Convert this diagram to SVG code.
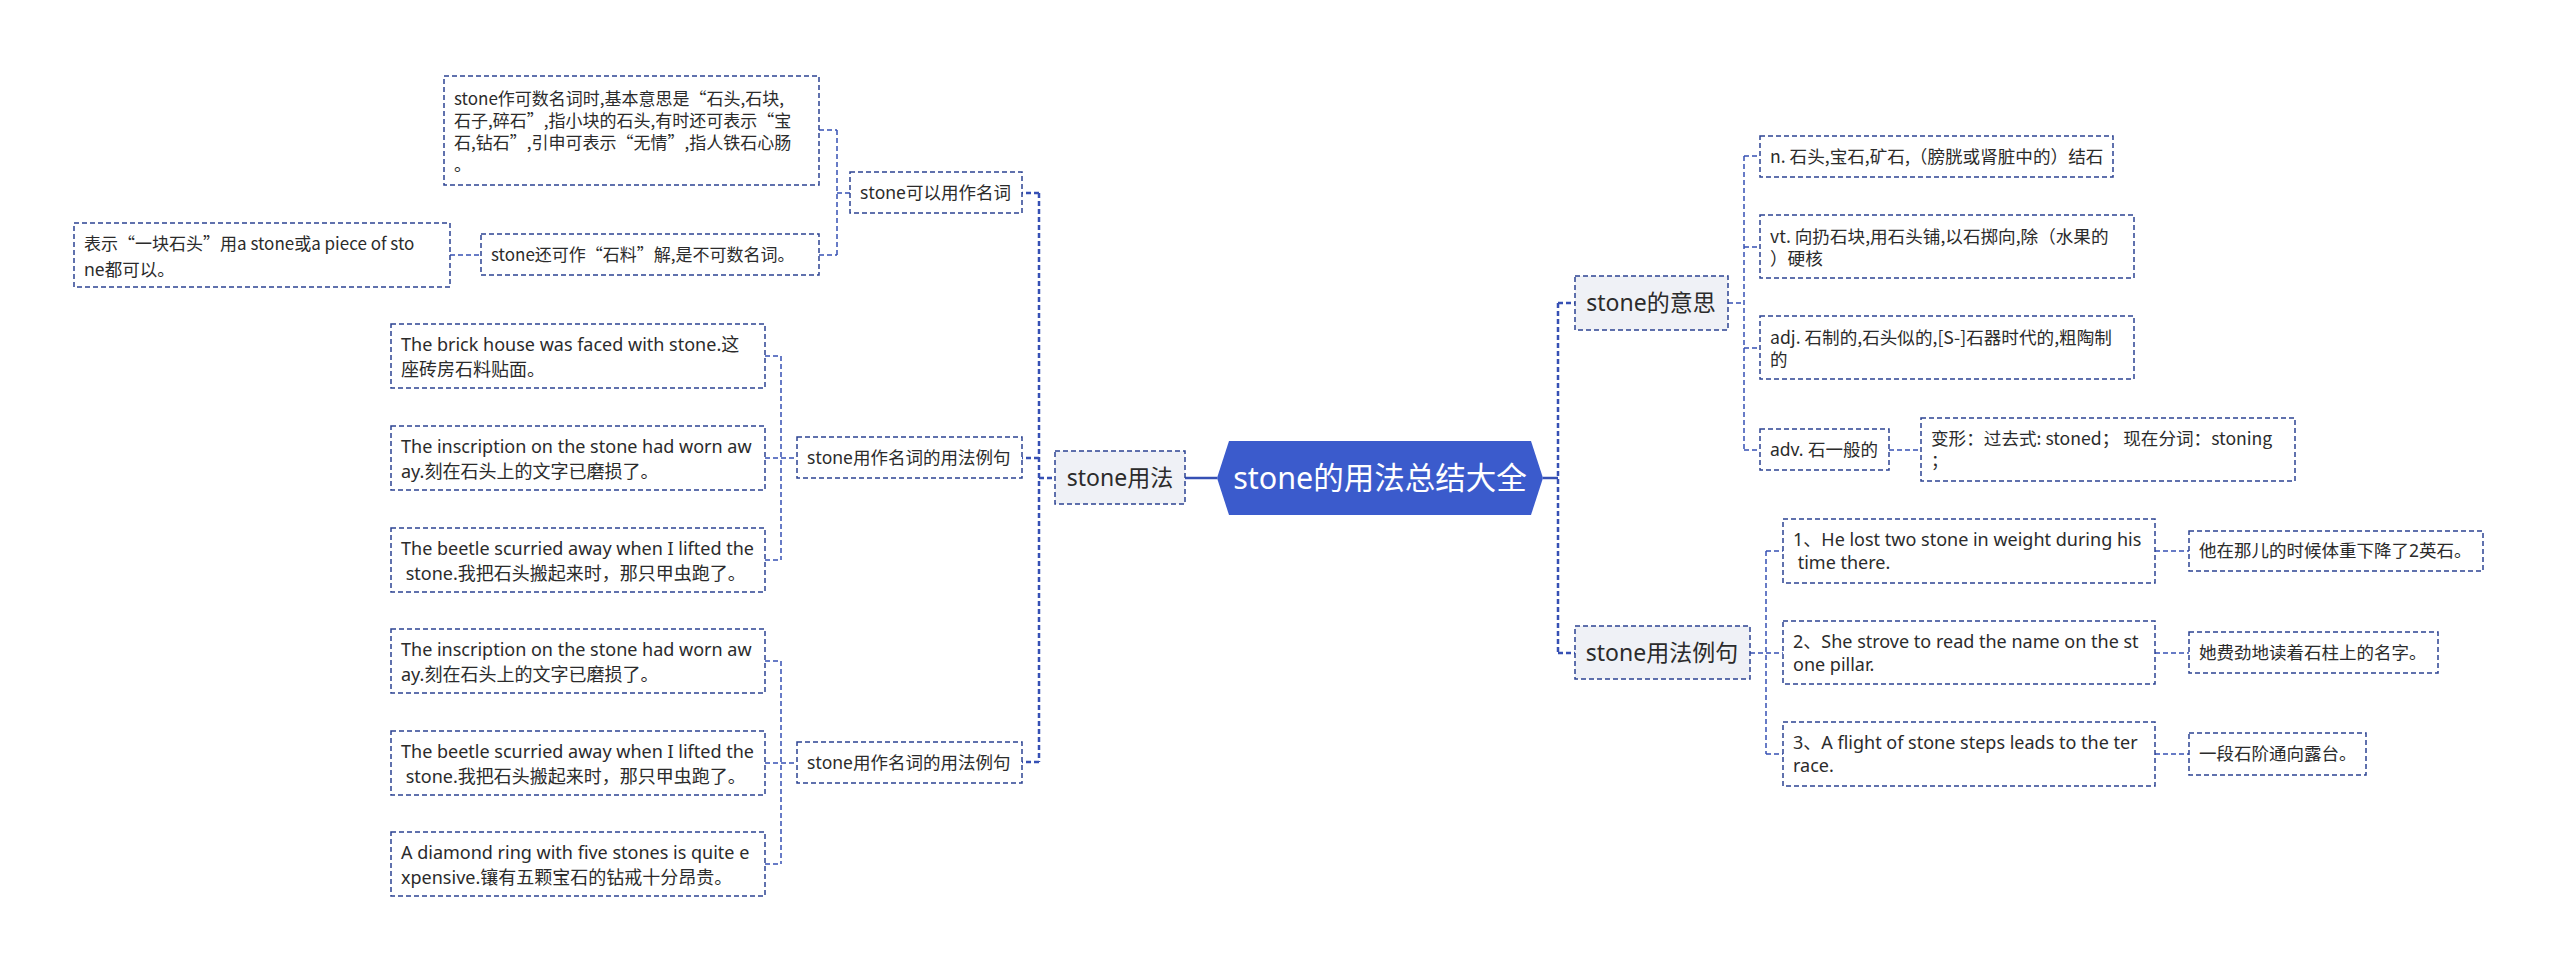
<svg xmlns="http://www.w3.org/2000/svg" width="2560" height="972" viewBox="0 0 2560 972">
<style>
text{font-family:"Noto Sans","Noto Sans CJK SC","Microsoft YaHei",sans-serif;fill:#2b2b2b;font-size:17.5px}
.cjkq{font-family:"Noto Sans CJK SC","Noto Sans",sans-serif;font-size:17px}
.en{font-size:18px}
.box{fill:#ffffff;stroke:#2c4392;stroke-width:1.5;stroke-dasharray:5 3}
.sub{fill:#eff1f6;stroke:#2c4392;stroke-width:1.5;stroke-dasharray:5 3}
.t2{font-size:23px}
.root{font-size:30.5px;fill:#ffffff}
.c{fill:none;stroke:#3650b4;stroke-width:1.5;stroke-dasharray:5 3}
.ct{fill:none;stroke:#3650b4;stroke-width:2.5;stroke-dasharray:5 3}
.cs{fill:none;stroke:#3650b4;stroke-width:2.5}
</style>
<rect width="2560" height="972" fill="#ffffff"/>
<g id="connectors">
<path class="cs" d="M1185 478H1217"/>
<path class="cs" d="M1543 478H1558"/>
<path class="ct" d="M1039 193V762M1039 193H1022M1039 458H1022M1039 478H1055M1039 762H1022"/>
<path class="ct" d="M1558 303V653M1558 303H1575M1558 653H1575"/>
<path class="c" d="M837 130V255M819 130H837M819 255H837M837 193H850M450 255H481"/>
<path class="c" d="M781 356V560M765 356H781M765 458H797M765 560H781"/>
<path class="c" d="M781 661V864M765 661H781M765 763H797M765 864H781"/>
<path class="c" d="M1744 156V450M1728 303H1744M1744 156H1760M1744 247H1760M1744 348H1760M1744 450H1760M1889 450H1921"/>
<path class="c" d="M1766 551V754M1750 653H1783M1766 551H1783M1766 754H1783M2155 551H2189M2155 653H2189M2155 754H2189"/>
</g>
<g id="root">
<polygon points="1217,478 1229,441 1531,441 1543,478 1531,515 1229,515" fill="#3b5bcc"/>
<text class="root" x="1380" y="489" text-anchor="middle">stone的用法总结大全</text>
</g>
<g id="n-usage">
<rect class="sub" x="1055" y="451" width="130" height="53"/>
<text class="t2" x="1120" y="486" text-anchor="middle">stone用法</text>
</g>
<g id="n-noun">
<rect class="box" x="850" y="172" width="172" height="41"/>
<text x="860" y="199">stone可以用作名词</text>
</g>
<g id="n-noun-a">
<rect class="box" x="444" y="76" width="375" height="109"/>
<text class="cjkq" x="454" y="105">stone作可数名词时,基本意思是“石头,石块,</text>
<text class="cjkq" x="454" y="127">石子,碎石”,指小块的石头,有时还可表示“宝</text>
<text class="cjkq" x="454" y="149">石,钻石”,引申可表示“无情”,指人铁石心肠</text>
<text x="454" y="171">。</text>
</g>
<g id="n-noun-b">
<rect class="box" x="481" y="234" width="338" height="41"/>
<text class="cjkq" x="491" y="261">stone还可作“石料”解,是不可数名词。</text>
</g>
<g id="n-noun-c">
<rect class="box" x="74" y="223" width="376" height="64"/>
<text class="cjkq" x="84" y="250">表示“一块石头”用a stone或a piece of sto</text>
<text x="84" y="276">ne都可以。</text>
</g>
<g id="n-ex1">
<rect class="box" x="797" y="437" width="225" height="41"/>
<text x="807" y="464">stone用作名词的用法例句</text>
</g>
<g id="n-ex1-a">
<rect class="box" x="391" y="324" width="374" height="64"/>
<text class="en" x="401" y="351">The brick house was faced with stone.这</text>
<text class="en" x="401" y="376">座砖房石料贴面。</text>
</g>
<g id="n-ex1-b">
<rect class="box" x="391" y="426" width="374" height="64"/>
<text class="en" x="401" y="453">The inscription on the stone had worn aw</text>
<text class="en" x="401" y="478">ay.刻在石头上的文字已磨损了。</text>
</g>
<g id="n-ex1-c">
<rect class="box" x="391" y="528" width="374" height="64"/>
<text class="en" x="401" y="555">The beetle scurried away when I lifted the</text>
<text class="en" x="401" y="580" xml:space="preserve"> stone.我把石头搬起来时，那只甲虫跑了。</text>
</g>
<g id="n-ex2">
<rect class="box" x="797" y="742" width="225" height="41"/>
<text x="807" y="769">stone用作名词的用法例句</text>
</g>
<g id="n-ex2-a">
<rect class="box" x="391" y="629" width="374" height="64"/>
<text class="en" x="401" y="656">The inscription on the stone had worn aw</text>
<text class="en" x="401" y="681">ay.刻在石头上的文字已磨损了。</text>
</g>
<g id="n-ex2-b">
<rect class="box" x="391" y="731" width="374" height="64"/>
<text class="en" x="401" y="758">The beetle scurried away when I lifted the</text>
<text class="en" x="401" y="783" xml:space="preserve"> stone.我把石头搬起来时，那只甲虫跑了。</text>
</g>
<g id="n-ex2-c">
<rect class="box" x="391" y="832" width="374" height="64"/>
<text class="en" x="401" y="859">A diamond ring with five stones is quite e</text>
<text class="en" x="401" y="884">xpensive.镶有五颗宝石的钻戒十分昂贵。</text>
</g>
<g id="n-meaning">
<rect class="sub" x="1575" y="276" width="153" height="54"/>
<text class="t2" x="1651" y="311" text-anchor="middle">stone的意思</text>
</g>
<g id="n-m1">
<rect class="box" x="1760" y="136" width="353" height="41"/>
<text class="cjkq" x="1770" y="163" style="font-size:17.6px">n. 石头,宝石,矿石,（膀胱或肾脏中的）结石</text>
</g>
<g id="n-m2">
<rect class="box" x="1760" y="215" width="374" height="63"/>
<text class="cjkq" x="1770" y="243" style="font-size:17.6px">vt. 向扔石块,用石头铺,以石掷向,除（水果的</text>
<text class="cjkq" x="1770" y="265" style="font-size:17.6px">）硬核</text>
</g>
<g id="n-m3">
<rect class="box" x="1760" y="316" width="374" height="63"/>
<text class="cjkq" x="1770" y="344" style="font-size:17.6px">adj. 石制的,石头似的,[S-]石器时代的,粗陶制</text>
<text x="1770" y="366">的</text>
</g>
<g id="n-m4">
<rect class="box" x="1760" y="429" width="129" height="41"/>
<text x="1770" y="456">adv. 石一般的</text>
</g>
<g id="n-m4-a">
<rect class="box" x="1921" y="418" width="374" height="63"/>
<text class="cjkq" x="1931" y="445" style="font-size:17.6px">变形：过去式: stoned； 现在分词：stoning</text>
<text class="cjkq" x="1931" y="467">；</text>
</g>
<g id="n-examples">
<rect class="sub" x="1575" y="626" width="175" height="53"/>
<text class="t2" x="1662" y="661" text-anchor="middle">stone用法例句</text>
</g>
<g id="n-e1">
<rect class="box" x="1783" y="519" width="372" height="64"/>
<text class="en" x="1793" y="546">1、He lost two stone in weight during his</text>
<text class="en" x="1793" y="569" xml:space="preserve"> time there.</text>
</g>
<g id="n-e1-t">
<rect class="box" x="2189" y="531" width="294" height="40"/>
<text x="2199" y="557">他在那儿的时候体重下降了2英石。</text>
</g>
<g id="n-e2">
<rect class="box" x="1783" y="621" width="372" height="63"/>
<text class="en" x="1793" y="648">2、She strove to read the name on the st</text>
<text class="en" x="1793" y="671">one pillar.</text>
</g>
<g id="n-e2-t">
<rect class="box" x="2189" y="632" width="249" height="41"/>
<text x="2199" y="659">她费劲地读着石柱上的名字。</text>
</g>
<g id="n-e3">
<rect class="box" x="1783" y="722" width="372" height="64"/>
<text class="en" x="1793" y="749">3、A flight of stone steps leads to the ter</text>
<text class="en" x="1793" y="772">race.</text>
</g>
<g id="n-e3-t">
<rect class="box" x="2189" y="733" width="177" height="42"/>
<text x="2199" y="760">一段石阶通向露台。</text>
</g>
</svg>
